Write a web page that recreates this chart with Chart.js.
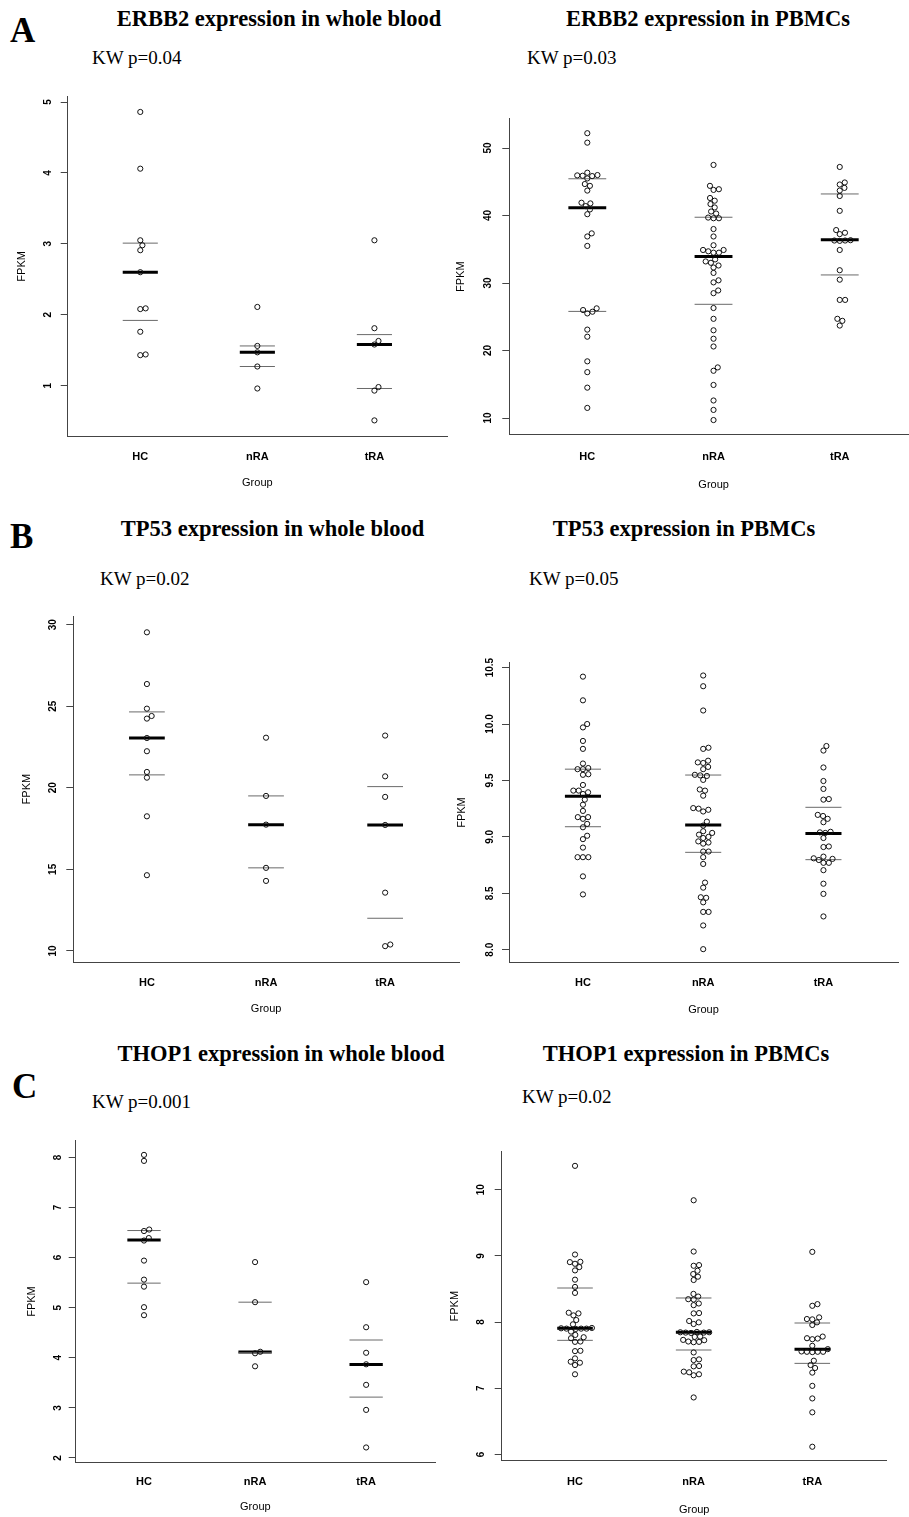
<!DOCTYPE html>
<html>
<head>
<meta charset="utf-8">
<script src="https://cdn.jsdelivr.net/npm/chart.js@4.4.1/dist/chart.umd.min.js"></script>
<style>
  body { margin: 0; width: 909px; height: 1517px; overflow: hidden; background: #fff; position: relative; }
</style>
</head>
<body>
<script>
"use strict";

const groups = ["HC", "nRA", "tRA"];

// ERBB2, whole blood
const erbb2BloodHC = [4.86, 4.06, 3.05, 2.98, 2.91, 2.60, 2.08, 2.09, 1.76, 1.43, 1.44];
const erbb2BloodNRA = [2.11, 1.56, 1.47, 1.27, 0.96];
const erbb2BloodTRA = [3.05, 1.81, 1.63, 1.58, 0.98, 0.93, 0.51];
const erbb2BloodMedian = [2.60, 1.47, 1.58];
const erbb2BloodQ1 = [1.92, 1.27, 0.96];
const erbb2BloodQ3 = [3.01, 1.56, 1.72];
const erbb2BloodTicks = ["1", "2", "3", "4", "5"];

// ERBB2, PBMCs
const erbb2PbmcHC = [52.2, 50.8, 46.35, 46.0, 45.9, 45.85, 45.95, 45.5, 44.67, 44.4, 43.7, 41.9, 41.8, 41.4,
  40.9, 40.2, 37.36, 36.9, 35.5, 26.25, 26.0, 25.75, 25.5, 23.1, 22.05, 18.4, 16.8, 14.5, 11.5];
const erbb2PbmcNRA = [47.5, 44.4, 43.9, 43.8, 42.6, 42.2, 41.7, 41.2, 40.6, 40.3, 39.7, 39.6, 39.6, 38.0, 36.9,
  35.6, 34.9, 34.9, 34.7, 34.5, 34.5, 33.5, 33.2, 33.0, 32.6, 32.3, 31.5, 30.4, 30.1, 28.9, 28.5, 26.3, 24.7,
  23.0, 21.75, 20.6, 17.5, 17.0, 14.9, 12.6, 11.2, 9.7];
const erbb2PbmcTRA = [47.2, 44.9, 44.6, 44.1, 43.7, 42.9, 40.7, 37.85, 37.45, 37.25, 36.35, 36.3, 36.3, 36.25,
  34.9, 31.9, 30.5, 27.5, 27.5, 24.7, 24.4, 23.7];
const erbb2PbmcMedian = [41.15, 33.95, 36.4];
const erbb2PbmcQ1 = [25.8, 26.85, 31.2];
const erbb2PbmcQ3 = [45.45, 39.75, 43.2];
const erbb2PbmcTicks = ["10", "20", "30", "40", "50"];

// TP53, whole blood
const tp53BloodHC = [29.53, 26.36, 24.85, 24.4, 24.24, 23.05, 22.24, 20.97, 20.62, 18.25, 14.64];
const tp53BloodNRA = [23.07, 19.5, 17.74, 15.09, 14.29];
const tp53BloodTRA = [23.2, 20.7, 19.44, 17.72, 13.57, 10.39, 10.29];
const tp53BloodMedian = [23.05, 17.74, 17.72];
const tp53BloodQ1 = [20.79, 15.09, 12.0];
const tp53BloodQ3 = [24.65, 19.5, 20.07];
const tp53BloodTicks = ["10", "15", "20", "25", "30"];

// TP53, PBMCs
const tp53PbmcHC = [10.42, 10.21, 10.0, 9.97, 9.85, 9.78, 9.65, 9.61, 9.60, 9.60, 9.55, 9.555, 9.46, 9.41, 9.41,
  9.395, 9.38, 9.33, 9.285, 9.23, 9.175, 9.175, 9.16, 9.115, 9.085, 9.01, 8.98, 8.905, 8.82, 8.82, 8.82, 8.65, 8.49];
const tp53PbmcNRA = [10.43, 10.335, 10.12, 9.79, 9.78, 9.675, 9.66, 9.655, 9.62, 9.6, 9.55, 9.545, 9.54, 9.505,
  9.42, 9.41, 9.365, 9.255, 9.25, 9.24, 9.225, 9.135, 9.1, 9.05, 9.035, 9.02, 9.0, 8.99, 8.96, 8.95, 8.94, 8.87,
  8.87, 8.82, 8.76, 8.595, 8.55, 8.465, 8.46, 8.42, 8.335, 8.335, 8.215, 8.005];
const tp53PbmcTRA = [9.805, 9.765, 9.615, 9.495, 9.425, 9.335, 9.33, 9.195, 9.185, 9.16, 9.13, 9.045, 9.04, 9.035,
  8.99, 8.915, 8.91, 8.825, 8.81, 8.805, 8.795, 8.77, 8.77, 8.705, 8.585, 8.495, 8.295];
const tp53PbmcMedian = [9.36, 9.105, 9.03];
const tp53PbmcQ1 = [9.09, 8.863, 8.798];
const tp53PbmcQ3 = [9.6, 9.548, 9.262];
const tp53PbmcTicks = ["8.0", "8.5", "9.0", "9.5", "10.0", "10.5"];

// THOP1, whole blood
const thop1BloodHC = [8.05, 7.93, 6.56, 6.53, 6.39, 6.34, 5.94, 5.56, 5.42, 5.01, 4.85];
const thop1BloodNRA = [5.91, 5.11, 4.12, 4.09, 3.83];
const thop1BloodTRA = [5.51, 4.61, 4.10, 3.87, 3.46, 2.96, 2.21];
const thop1BloodMedian = [6.35, 4.115, 3.865];
const thop1BloodQ1 = [5.49, 4.1, 3.215];
const thop1BloodQ3 = [6.54, 5.11, 4.355];
const thop1BloodTicks = ["2", "3", "4", "5", "6", "7", "8"];

// THOP1, PBMCs
const thop1PbmcHC = [10.36, 9.02, 8.91, 8.905, 8.88, 8.83, 8.78, 8.64, 8.53, 8.44, 8.14, 8.13, 8.1, 8.03, 7.965,
  7.91, 7.905, 7.9, 7.9, 7.9, 7.895, 7.855, 7.805, 7.77, 7.755, 7.705, 7.7, 7.565, 7.56, 7.45, 7.40, 7.385, 7.35, 7.21];
const thop1PbmcNRA = [9.84, 9.065, 8.86, 8.85, 8.775, 8.725, 8.685, 8.635, 8.425, 8.385, 8.345, 8.34, 8.28, 8.255,
  8.135, 8.13, 8.015, 7.995, 7.97, 7.85, 7.845, 7.845, 7.84, 7.84, 7.835, 7.78, 7.775, 7.73, 7.725, 7.705, 7.7,
  7.695, 7.54, 7.435, 7.425, 7.335, 7.33, 7.25, 7.24, 7.21, 7.195, 6.86];
const thop1PbmcTRA = [9.06, 8.27, 8.245, 8.07, 8.045, 8.04, 7.995, 7.955, 7.78, 7.755, 7.75, 7.74, 7.64, 7.59,
  7.555, 7.55, 7.55, 7.55, 7.545, 7.415, 7.35, 7.305, 7.235, 7.035, 6.845, 6.635, 6.115];
const thop1PbmcMedian = [7.905, 7.845, 7.587];
const thop1PbmcQ1 = [7.723, 7.577, 7.375];
const thop1PbmcQ3 = [8.514, 8.363, 7.985];
const thop1PbmcTicks = ["6", "7", "8", "9", "10"];

Chart.defaults.font.family = "'Liberation Sans', Arial, sans-serif";
Chart.defaults.color = "#000";

const measure = document.createElement("canvas").getContext("2d");

function addText(text, font, size, x, base, center) {
  const el = document.createElement("div");
  el.textContent = text;
  el.style.cssText = "position:absolute;white-space:nowrap;font:" + font + " " + size + "px 'Liberation Serif', serif;" +
    "line-height:" + size + "px;left:" + x + "px;top:" + (base - 0.8375 * size) + "px;" +
    (center ? "transform:translateX(-50%);" : "");
  document.body.appendChild(el);
}

// beeswarm: put each point at the free spot nearest the group centre
function swarm(chart, values, pos, d) {
  const xs = chart.scales.x;
  const ys = chart.scales.y;
  const unit = xs.getPixelForValue(2) - xs.getPixelForValue(1);
  const order = values.map((v, i) => i).sort((a, b) => values[a] - values[b]);
  const placed = [];
  const out = [];
  order.forEach(i => {
    const py = ys.getPixelForValue(values[i]);
    const cands = [0];
    placed.forEach(p => {
      const dy = Math.abs(p.y - py);
      if (dy < d) {
        const dx = Math.sqrt(d * d - dy * dy);
        cands.push(p.x + dx, p.x - dx);
      }
    });
    cands.sort((a, b) => Math.abs(a) - Math.abs(b));
    const px = cands.find(c => placed.every(p => Math.hypot(p.x - c, p.y - py) >= d - 0.01));
    placed.push({ x: px, y: py });
    out[i] = { x: pos + px / unit, y: values[i] };
  });
  return out;
}

function makePanel(p) {
  const canvas = document.createElement("canvas");
  canvas.width = p.width;
  canvas.height = p.height;
  canvas.style.cssText = "position:absolute;left:" + p.left + "px;top:" + p.top + "px;";
  document.body.appendChild(canvas);

  const datasets = [];
  p.series.forEach((vals, i) => {
    datasets.push({
      type: "scatter",
      data: vals.map(v => ({ x: i + 1, y: v })),
      pointRadius: 2.6,
      pointBorderWidth: 1,
      pointBorderColor: "#111",
      pointBackgroundColor: "rgba(0,0,0,0)"
    });
  });
  const addLines = (stats, width, color) => {
    stats.forEach((v, i) => {
      datasets.push({
        type: "line",
        data: [{ x: i + 1 - 0.15, y: v }, { x: i + 1 + 0.15, y: v }],
        borderColor: color,
        borderWidth: width,
        pointRadius: 0,
        fill: false
      });
    });
  };
  addLines(p.q1, 1, "#6a6a6a");
  addLines(p.q3, 1, "#6a6a6a");
  addLines(p.median, 3, "#000");

  measure.font = "bold 10px 'Liberation Sans', Arial, sans-serif";
  const widest = Math.max(...p.ticks.map(t => measure.measureText(t).width));
  const yWidth = p.plotLeft - p.left;
  const xHeight = p.top + p.height - p.plotBottom;

  const chart = new Chart(canvas, {
    data: { datasets: datasets },
    options: {
      responsive: false,
      animation: false,
      devicePixelRatio: 1,
      layout: { padding: { left: 0, bottom: 0, top: p.plotTop - p.top, right: p.left + p.width - p.plotRight } },
      plugins: { legend: { display: false }, tooltip: { enabled: false } },
      scales: {
        x: {
          type: "linear",
          min: p.xMin,
          max: p.xMax,
          afterBuildTicks: s => { s.ticks = groups.map((g, i) => ({ value: i + 1 })); },
          afterFit: s => { s.height = xHeight; s.paddingLeft = 0; s.paddingRight = 0; },
          ticks: {
            autoSkip: false,
            maxRotation: 0,
            padding: p.catGap - 6.6,
            font: { size: 11, weight: "bold" },
            callback: v => groups[v - 1]
          },
          grid: { display: false, drawTicks: false },
          border: { color: "#444", width: 1 },
          title: { display: true, text: "Group", font: { size: 11 }, padding: { top: 0, bottom: 2 } }
        },
        y: {
          type: "linear",
          min: p.yMin,
          max: p.yMax,
          afterBuildTicks: s => { s.ticks = p.ticks.map(t => ({ value: parseFloat(t) })); },
          afterFit: s => { s.width = yWidth; s.paddingTop = 0; s.paddingBottom = 0; },
          ticks: {
            autoSkip: false,
            minRotation: 90,
            maxRotation: 90,
            crossAlign: "center",
            padding: p.tickGap - 7 - widest / 2,
            font: { size: 10, weight: "bold" },
            callback: (v, i) => p.ticks[i]
          },
          grid: { drawOnChartArea: false, drawTicks: true, tickLength: 7, tickColor: "#444", tickWidth: 1 },
          border: { color: "#444", width: 1 },
          title: { display: true, text: "FPKM", font: { size: 11 }, padding: { top: p.fpkmX - p.left - 6.6, bottom: 0 } }
        }
      }
    }
  });

  p.series.forEach((vals, i) => {
    chart.data.datasets[i].data = swarm(chart, vals, i + 1, 5.4);
  });
  chart.update("none");
  return chart;
}

const panels = [
  {
    series: [erbb2BloodHC, erbb2BloodNRA, erbb2BloodTRA], median: erbb2BloodMedian, q1: erbb2BloodQ1, q3: erbb2BloodQ3,
    ticks: erbb2BloodTicks, yMin: 0.28, yMax: 5.085, xMin: 0.38, xMax: 3.62,
    left: 0, top: 86, width: 452, height: 406, plotLeft: 67.7, plotTop: 96, plotRight: 447.7, plotBottom: 436.7,
    catGap: 20, tickGap: 19, fpkmX: 22
  },
  {
    series: [erbb2PbmcHC, erbb2PbmcNRA, erbb2PbmcTRA], median: erbb2PbmcMedian, q1: erbb2PbmcQ1, q3: erbb2PbmcQ3,
    ticks: erbb2PbmcTicks, yMin: 7.53, yMax: 54.35, xMin: 0.382, xMax: 3.62,
    left: 445, top: 108, width: 478, height: 386, plotLeft: 509.3, plotTop: 118.7, plotRight: 918.3, plotBottom: 434.7,
    catGap: 22, tickGap: 21, fpkmX: 461
  },
  {
    series: [tp53BloodHC, tp53BloodNRA, tp53BloodTRA], median: tp53BloodMedian, q1: tp53BloodQ1, q3: tp53BloodQ3,
    ticks: tp53BloodTicks, yMin: 9.3, yMax: 30.53, xMin: 0.382, xMax: 3.62,
    left: 0, top: 606, width: 464, height: 412, plotLeft: 73.3, plotTop: 616, plotRight: 459.3, plotBottom: 962.3,
    catGap: 20.4, tickGap: 20, fpkmX: 27
  },
  {
    series: [tp53PbmcHC, tp53PbmcNRA, tp53PbmcTRA], median: tp53PbmcMedian, q1: tp53PbmcQ1, q3: tp53PbmcQ3,
    ticks: tp53PbmcTicks, yMin: 7.885, yMax: 10.547, xMin: 0.385, xMax: 3.62,
    left: 445, top: 652, width: 460, height: 367, plotLeft: 509, plotTop: 662.3, plotRight: 898, plotBottom: 962.7,
    catGap: 20.6, tickGap: 19, fpkmX: 462
  },
  {
    series: [thop1BloodHC, thop1BloodNRA, thop1BloodTRA], median: thop1BloodMedian, q1: thop1BloodQ1, q3: thop1BloodQ3,
    ticks: thop1BloodTicks, yMin: 1.914, yMax: 8.333, xMin: 0.385, xMax: 3.62,
    left: 0, top: 1130, width: 445, height: 386, plotLeft: 75.7, plotTop: 1140.7, plotRight: 435, plotBottom: 1462.3,
    catGap: 19.4, tickGap: 17.5, fpkmX: 32
  },
  {
    series: [thop1PbmcHC, thop1PbmcNRA, thop1PbmcTRA], median: thop1PbmcMedian, q1: thop1PbmcQ1, q3: thop1PbmcQ3,
    ticks: thop1PbmcTicks, yMin: 5.904, yMax: 10.574, xMin: 0.382, xMax: 3.627,
    left: 440, top: 1141, width: 455, height: 378, plotLeft: 501.7, plotTop: 1151.7, plotRight: 886.7, plotBottom: 1460.7,
    catGap: 21, tickGap: 20, fpkmX: 455
  }
];

panels.forEach(makePanel);

addText("A", "bold", 35, 10, 42, false);
addText("B", "bold", 35, 10, 548, false);
addText("C", "bold", 35, 12, 1098, false);

addText("ERBB2 expression in whole blood", "bold", 22.5, 279, 27, true);
addText("ERBB2 expression in PBMCs", "bold", 22.5, 708, 27, true);
addText("TP53 expression in whole blood", "bold", 22.5, 272.5, 537, true);
addText("TP53 expression in PBMCs", "bold", 22.5, 684, 537, true);
addText("THOP1 expression in whole blood", "bold", 22.5, 281, 1062, true);
addText("THOP1 expression in PBMCs", "bold", 22.5, 686, 1062, true);

addText("KW p=0.04", "normal", 19, 92, 64, false);
addText("KW p=0.03", "normal", 19, 527, 64, false);
addText("KW p=0.02", "normal", 19, 100, 585, false);
addText("KW p=0.05", "normal", 19, 529, 585, false);
addText("KW p=0.001", "normal", 19, 92, 1108, false);
addText("KW p=0.02", "normal", 19, 522, 1103, false);
</script>
</body>
</html>
